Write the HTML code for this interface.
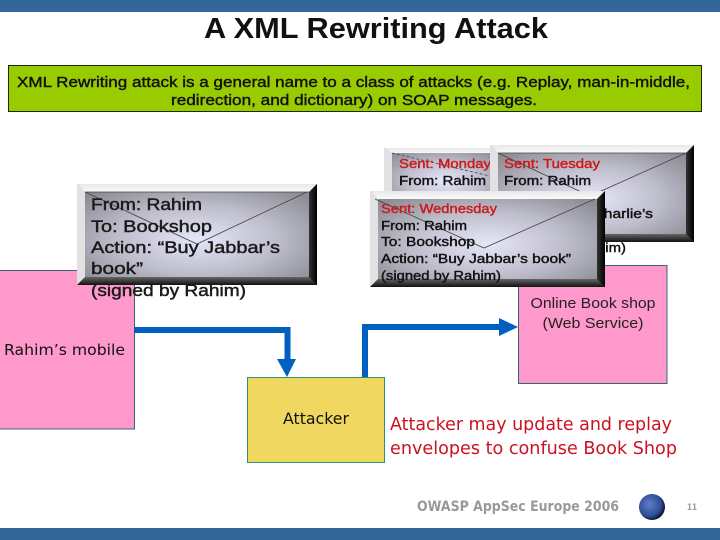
<!DOCTYPE html>
<html><head><meta charset="utf-8"><title>A XML Rewriting Attack</title>
<style>html,body{margin:0;padding:0;background:#fff}svg{display:block}
text{font-family:"Liberation Sans",sans-serif}
.d{font-family:"DejaVu Sans",sans-serif}
.m{font-size:13px;fill:#111;stroke:#111;stroke-width:.4}.r{font-size:13px;fill:#d01818;stroke:#d01818;stroke-width:.4}
.l{font-size:17px;fill:#1a1a1a;stroke:#1a1a1a;stroke-width:.45}
.g{font-size:15px;fill:#111;stroke:#111;stroke-width:.4}</style></head>
<body>
<svg width="720" height="540" viewBox="0 0 720 540" xmlns="http://www.w3.org/2000/svg">
<defs>
<radialGradient id="e" cx="50%" cy="55%" r="62%"><stop offset="0" stop-color="#e6e6fa"/><stop offset=".55" stop-color="#bcbcca"/><stop offset="1" stop-color="#8c8c95"/></radialGradient>
<radialGradient id="b" cx="40%" cy="40%" r="60%"><stop offset="0" stop-color="#5f7fc8"/><stop offset=".75" stop-color="#2f4c96"/><stop offset="1" stop-color="#0c1a38"/></radialGradient>
<linearGradient id="t" x1="0" x2="0" y1="0" y2="1"><stop offset="0" stop-color="#e8e8e8"/><stop offset="1" stop-color="#fafafa"/></linearGradient>
<linearGradient id="rs" x1="0" x2="1" y1="0" y2="0"><stop offset="0" stop-color="#333"/><stop offset="1" stop-color="#000"/></linearGradient>
<linearGradient id="bs" x1="0" x2="0" y1="0" y2="1"><stop offset="0" stop-color="#666"/><stop offset="1" stop-color="#111"/></linearGradient>
</defs>
<rect width="720" height="540" fill="#fff"/>
<rect width="720" height="12" fill="#336699"/>
<rect y="528" width="720" height="12" fill="#336699"/>
<text x="204" y="38" font-size="29" font-weight="bold" fill="#111" textLength="344" lengthAdjust="spacingAndGlyphs">A XML Rewriting Attack</text>
<rect x="8.5" y="65.5" width="693" height="46" fill="#99cc00" stroke="#1c2a00"/>
<text class="g" x="17" y="87" textLength="673" lengthAdjust="spacingAndGlyphs">XML Rewriting attack is a general name to a class of attacks (e.g. Replay, man-in-middle,</text>
<text class="g" x="171" y="105" textLength="366" lengthAdjust="spacingAndGlyphs">redirection, and dictionary) on SOAP messages.</text>

<rect x="-1" y="270.5" width="135.500" height="158.500" fill="#ff99cc" stroke="#336677"/>
<rect x="518.500" y="265.500" width="148.500" height="118" fill="#ff99cc" stroke="#336677"/>
<rect x="247.500" y="377.500" width="137" height="85" fill="#f0d860" stroke="#2f8f70"/>

<path d="M134 330H287.500V360" fill="none" stroke="#0060c0" stroke-width="6"/>
<path d="M277 359H296L287 377Z" fill="#0060c0"/>
<path d="M365 377V327H500" fill="none" stroke="#0060c0" stroke-width="6"/>
<path d="M499 318L518 327L499 336Z" fill="#0060c0"/>

<!-- Left envelope -->
<rect x="77" y="184" width="240" height="101" fill="url(#e)"/>
<path d="M77 184H317L309 192H85Z" fill="url(#t)"/>
<path d="M77 184L85 192V277L77 285Z" fill="#e2e2e2"/>
<path d="M317 184V285H309V192Z" fill="url(#rs)"/>
<path d="M77 285L85 277H309L317 285Z" fill="url(#bs)"/>
<path d="M85 192L197 244L307 192M85 192H309" fill="none" stroke="#444" stroke-width=".8"/>
<text class="l" x="91" y="210" textLength="111" lengthAdjust="spacingAndGlyphs">From: Rahim</text>
<text class="l" x="91" y="232" textLength="121" lengthAdjust="spacingAndGlyphs">To: Bookshop</text>
<text class="l" x="91" y="253" textLength="189" lengthAdjust="spacingAndGlyphs">Action: “Buy Jabbar’s</text>
<text class="l" x="91" y="274" textLength="52" lengthAdjust="spacingAndGlyphs">book”</text>
<text class="l" x="91" y="296" textLength="155" lengthAdjust="spacingAndGlyphs">(signed by Rahim)</text>

<!-- Monday -->
<rect x="384" y="148" width="120" height="60" fill="url(#e)"/>
<path d="M384 148H504V153H392Z" fill="url(#t)"/>
<path d="M384 148L392 153V208H384Z" fill="#e2e2e2"/>
<path d="M392 153L490 176" fill="none" stroke="#445" stroke-width=".8" stroke-dasharray="3 2"/>
<text class="r" x="399" y="168" textLength="92" lengthAdjust="spacingAndGlyphs">Sent: Monday</text>
<text class="m" x="399" y="185" textLength="87" lengthAdjust="spacingAndGlyphs">From: Rahim</text>

<!-- Tuesday -->
<rect x="490" y="145" width="204" height="97" fill="url(#e)"/>
<path d="M490 145H694L686 153H498Z" fill="url(#t)"/>
<path d="M490 145L498 153V234L490 242Z" fill="#e2e2e2"/>
<path d="M694 145V242H686V153Z" fill="url(#rs)"/>
<path d="M490 242L498 234H686L694 242Z" fill="url(#bs)"/>
<path d="M498 153L590 196L686 153M498 153H686" fill="none" stroke="#444" stroke-width=".8"/>
<text class="r" x="504" y="168" textLength="96" lengthAdjust="spacingAndGlyphs">Sent: Tuesday</text>
<text class="m" x="504" y="185" textLength="87" lengthAdjust="spacingAndGlyphs">From: Rahim</text>
<text class="m" x="504" y="218" textLength="149" lengthAdjust="spacingAndGlyphs">Action: “Buy Charlie’s</text>
<text class="m" x="505" y="252" textLength="121" lengthAdjust="spacingAndGlyphs">(signed by Rahim)</text>

<!-- Wednesday -->
<rect x="370" y="191" width="235" height="96" fill="url(#e)"/>
<path d="M370 191H605L597 199H378Z" fill="url(#t)"/>
<path d="M370 191L378 199V279L370 287Z" fill="#e2e2e2"/>
<path d="M605 191V287H597V199Z" fill="url(#rs)"/>
<path d="M370 287L378 279H597L605 287Z" fill="url(#bs)"/>
<path d="M375 199L484 248L595 199" fill="none" stroke="#444" stroke-width=".8"/>
<text class="r" x="381" y="213" textLength="116" lengthAdjust="spacingAndGlyphs">Sent: Wednesday</text>
<text class="m" x="381" y="230" textLength="86" lengthAdjust="spacingAndGlyphs">From: Rahim</text>
<text class="m" x="381" y="246" textLength="94" lengthAdjust="spacingAndGlyphs">To: Bookshop</text>
<text class="m" x="381" y="263" textLength="190" lengthAdjust="spacingAndGlyphs">Action: “Buy Jabbar’s book”</text>
<text class="m" x="381" y="280" textLength="120" lengthAdjust="spacingAndGlyphs">(signed by Rahim)</text>

<text x="593" y="308" font-size="15" fill="#222" text-anchor="middle" textLength="125" lengthAdjust="spacingAndGlyphs">Online Book shop</text>
<text x="593" y="328" font-size="15" fill="#222" text-anchor="middle" textLength="101" lengthAdjust="spacingAndGlyphs">(Web Service)</text>
<text class="d" x="4" y="355" font-size="15" fill="#111" textLength="121" lengthAdjust="spacingAndGlyphs">Rahim’s mobile</text>
<text class="d" x="283" y="424" font-size="16" fill="#111" textLength="66" lengthAdjust="spacingAndGlyphs">Attacker</text>
<text class="d" x="390" y="430" font-size="18" fill="#cc1122" textLength="282" lengthAdjust="spacingAndGlyphs">Attacker may update and replay</text>
<text class="d" x="390" y="454" font-size="18" fill="#cc1122" textLength="287" lengthAdjust="spacingAndGlyphs">envelopes to confuse Book Shop</text>

<text class="d" x="417" y="511" font-size="14" font-weight="bold" fill="#999" textLength="202" lengthAdjust="spacingAndGlyphs">OWASP AppSec Europe 2006</text>
<circle cx="652" cy="507" r="13" fill="url(#b)"/>
<text class="d" x="687" y="510" font-size="9" font-weight="bold" fill="#999" textLength="10" lengthAdjust="spacingAndGlyphs">11</text>
</svg>
</body></html>
